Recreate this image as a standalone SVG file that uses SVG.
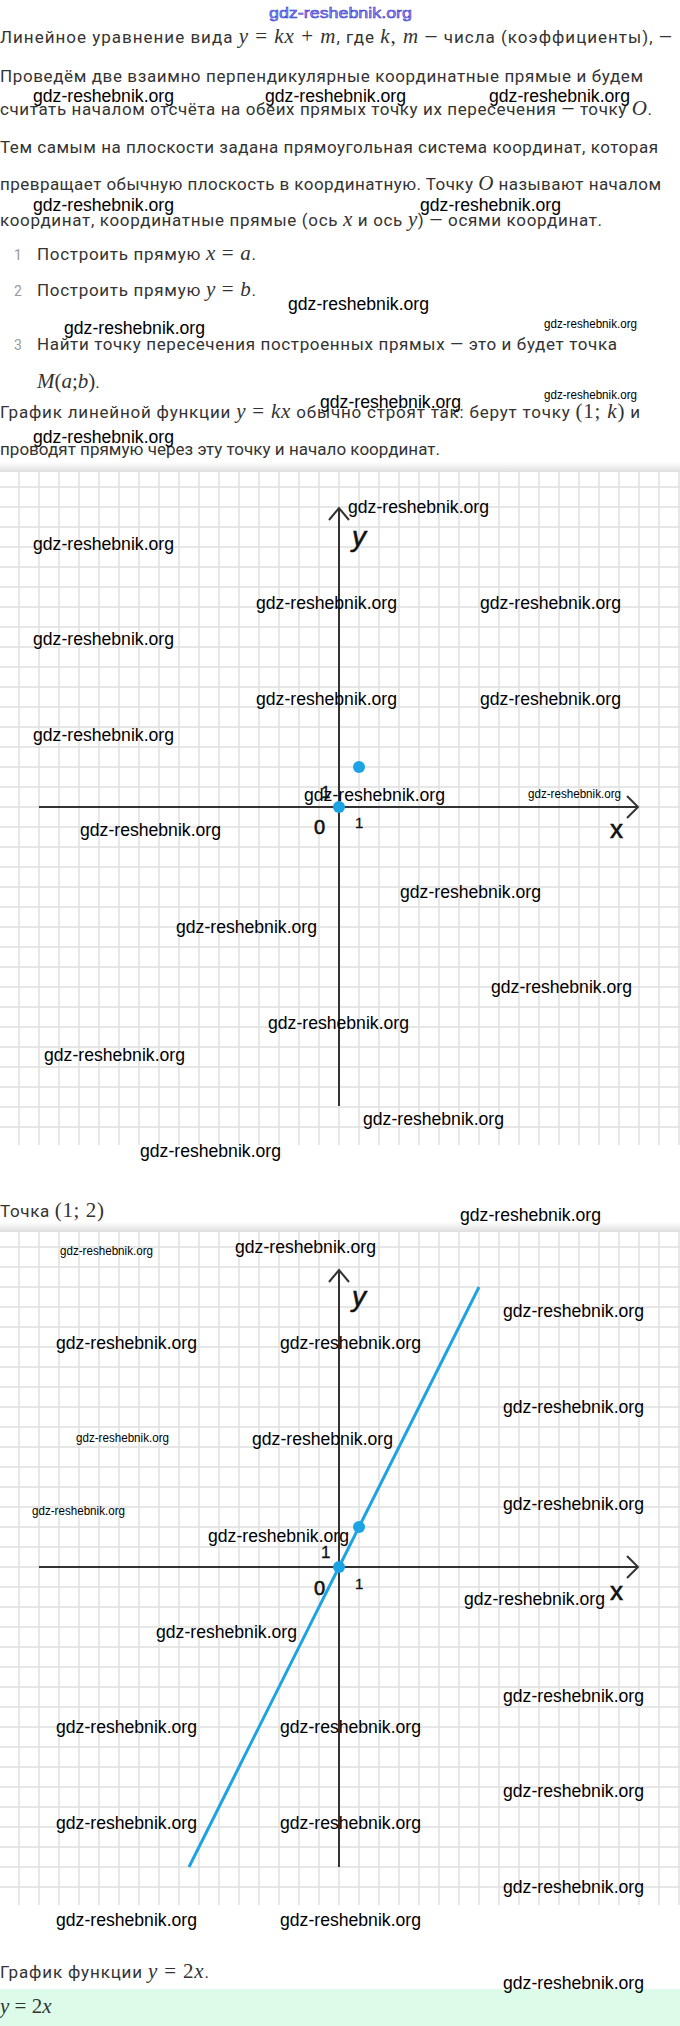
<svg xmlns="http://www.w3.org/2000/svg" width="680" height="2026" viewBox="0 0 680 2026">
<defs>
<style>
.t{font-family:Roboto,"Liberation Sans",sans-serif;font-size:17px;fill:#333}
.m{font-family:"Liberation Serif",serif;font-style:italic;font-size:21px}
.mr{font-family:"Liberation Serif",serif;font-style:normal;font-size:21px}
.num{font-family:Roboto,"Liberation Sans",sans-serif;font-size:14px;fill:#999}
.w{font-family:"Liberation Sans Narrow","Liberation Sans",sans-serif;font-size:18px;fill:#000}
.ws{font-family:"Liberation Sans Narrow","Liberation Sans",sans-serif;font-size:12px;fill:#000}
.axis{stroke:#333;stroke-width:2;fill:none}
.arrow{stroke:#333;stroke-width:2;fill:none;stroke-linejoin:miter}
.lbl{font-family:"Liberation Sans",Arial,sans-serif;fill:#111;stroke:#111;stroke-width:0.6}
.dot{fill:#1ba3e4}
.fn{stroke:#1ba3e4;stroke-width:3;fill:none}
</style>
<pattern id="grid" width="20" height="20" patternUnits="userSpaceOnUse">
<rect width="20" height="20" fill="#fff"/>
<line x1="19" y1="0" x2="19" y2="20" stroke="#e3e3e3" stroke-width="1.7"/>
<line x1="0" y1="7" x2="20" y2="7" stroke="#e3e3e3" stroke-width="1.7"/>
</pattern>
<linearGradient id="sh" x1="0" y1="0" x2="0" y2="1">
<stop offset="0" stop-color="#000" stop-opacity="0"/>
<stop offset="1" stop-color="#000" stop-opacity="0.13"/>
</linearGradient>
</defs>
<rect width="680" height="2026" fill="#fff"/>

<g id="title">
<text x="269" y="18" textLength="143" lengthAdjust="spacingAndGlyphs" style="font-family:'Liberation Sans Narrow','Liberation Sans',sans-serif;font-size:15px;fill:#9a9af4;stroke:#2a2ad0;stroke-width:0.5">gdz-reshebnik.org</text>
</g>

<g id="intro-text">
<text class="t" x="0" y="43" textLength="672">Линейное уравнение вида <tspan class="m">y</tspan><tspan class="mr"> = </tspan><tspan class="m">kx</tspan><tspan class="mr"> + </tspan><tspan class="m">m</tspan>, где <tspan class="m">k</tspan><tspan class="mr">, </tspan><tspan class="m">m</tspan> — числа (коэффициенты), —</text>
<text class="t" x="0" y="82" textLength="643">Проведём две взаимно перпендикулярные координатные прямые и будем</text>
<text class="t" x="0" y="115" textLength="652">считать началом отсчёта на обеих прямых точку их пересечения — точку <tspan class="m">O</tspan>.</text>
<text class="t" x="0" y="153" textLength="658">Тем самым на плоскости задана прямоугольная система координат, которая</text>
<text class="t" x="0" y="190" textLength="661">превращает обычную плоскость в координатную. Точку <tspan class="m">O</tspan> называют началом</text>
<text class="t" x="0" y="226" textLength="602">координат, координатные прямые (ось <tspan class="m">x</tspan> и ось <tspan class="m">y</tspan>) — осями координат.</text>
</g>

<g id="steps">
<text class="num" x="14" y="260">1</text>
<text class="t" x="37" y="260" textLength="219">Построить прямую <tspan class="m">x</tspan><tspan class="mr"> = </tspan><tspan class="m">a</tspan>.</text>
<text class="num" x="14" y="296">2</text>
<text class="t" x="37" y="296" textLength="219">Построить прямую <tspan class="m">y</tspan><tspan class="mr"> = </tspan><tspan class="m">b</tspan>.</text>
<text class="num" x="14" y="350">3</text>
<text class="t" x="37" y="350" textLength="580">Найти точку пересечения построенных прямых — это и будет точка</text>
<text class="t" x="37" y="388"><tspan class="m">M</tspan><tspan class="mr">(</tspan><tspan class="m">a</tspan><tspan class="mr">;</tspan><tspan class="m">b</tspan><tspan class="mr">)</tspan>.</text>
</g>

<g id="kx-text">
<text class="t" x="0" y="418" textLength="640">График линейной функции <tspan class="m">y</tspan><tspan class="mr"> = </tspan><tspan class="m">kx</tspan> обычно строят так: берут точку <tspan class="mr">(1; </tspan><tspan class="m">k</tspan><tspan class="mr">)</tspan> и</text>
<text class="t" x="0" y="455" textLength="440">проводят прямую через эту точку и начало координат.</text>
</g>

<g id="chart1">
<rect x="0" y="462" width="680" height="10" fill="url(#sh)"/>
<rect x="0" y="472" width="680" height="673" fill="url(#grid)"/>
<g id="chart1-connectors">
<line class="axis" x1="39" y1="807" x2="637" y2="807"/>
<polyline class="arrow" points="627,796 638,807 627,818"/>
<line class="axis" x1="339" y1="1106" x2="339" y2="509"/>
<polyline class="arrow" points="329,520 339,508 349,520"/>
</g>
<circle class="dot" cx="339" cy="807" r="6"/>
<circle class="dot" cx="359" cy="767" r="6"/>
<text class="lbl" x="352" y="546" style="font-size:28px;font-style:italic">y</text>
<text class="lbl" x="610" y="838" style="font-size:26px">x</text>
<text class="lbl" x="314" y="834" style="font-size:20px">0</text>
<text class="lbl" x="321" y="798" style="font-size:17px;stroke-width:0.3">1</text>
<text class="lbl" x="355" y="828" style="font-size:15px;stroke-width:0.3">1</text>
</g>

<g id="point-caption">
<text class="t" x="0" y="1217" textLength="104">Точка <tspan class="mr">(1; 2)</tspan></text>
</g>

<g id="chart2">
<rect x="0" y="1222" width="680" height="10" fill="url(#sh)"/>
<rect x="0" y="1232" width="680" height="673" fill="url(#grid)"/>
<g id="chart2-connectors">
<line class="axis" x1="39" y1="1567" x2="637" y2="1567"/>
<polyline class="arrow" points="627,1556 638,1567 627,1578"/>
<line class="axis" x1="339" y1="1867" x2="339" y2="1271"/>
<polyline class="arrow" points="329,1282 339,1270 349,1282"/>
<line class="fn" x1="189" y1="1867" x2="479" y2="1287"/>
</g>
<circle class="dot" cx="339" cy="1567" r="6"/>
<circle class="dot" cx="359" cy="1527" r="6"/>
<text class="lbl" x="352" y="1306" style="font-size:28px;font-style:italic">y</text>
<text class="lbl" x="610" y="1600" style="font-size:26px">x</text>
<text class="lbl" x="314" y="1595" style="font-size:20px">0</text>
<text class="lbl" x="321" y="1558" style="font-size:17px;stroke-width:0.3">1</text>
<text class="lbl" x="355" y="1589" style="font-size:15px;stroke-width:0.3">1</text>
</g>

<g id="graph-caption">
<text class="t" x="0" y="1978" textLength="209">График функции <tspan class="m">y</tspan><tspan class="mr"> = 2</tspan><tspan class="m">x</tspan>.</text>
</g>

<g id="answer">
<rect x="0" y="1989" width="680" height="37" fill="#dcfce9"/>
<text class="t" x="0" y="2013"><tspan class="m">y</tspan><tspan class="mr"> = 2</tspan><tspan class="m">x</tspan></text>
</g>

<g id="watermarks">
<text class="w" x="33" y="102" textLength="141" lengthAdjust="spacingAndGlyphs">gdz-reshebnik.org</text>
<text class="w" x="265" y="102" textLength="141" lengthAdjust="spacingAndGlyphs">gdz-reshebnik.org</text>
<text class="w" x="489" y="102" textLength="141" lengthAdjust="spacingAndGlyphs">gdz-reshebnik.org</text>
<text class="w" x="33" y="211" textLength="141" lengthAdjust="spacingAndGlyphs">gdz-reshebnik.org</text>
<text class="w" x="420" y="211" textLength="141" lengthAdjust="spacingAndGlyphs">gdz-reshebnik.org</text>
<text class="w" x="288" y="310" textLength="141" lengthAdjust="spacingAndGlyphs">gdz-reshebnik.org</text>
<text class="w" x="64" y="334" textLength="141" lengthAdjust="spacingAndGlyphs">gdz-reshebnik.org</text>
<text class="ws" x="544" y="328" textLength="93" lengthAdjust="spacingAndGlyphs">gdz-reshebnik.org</text>
<text class="w" x="320" y="408" textLength="141" lengthAdjust="spacingAndGlyphs">gdz-reshebnik.org</text>
<text class="ws" x="544" y="399" textLength="93" lengthAdjust="spacingAndGlyphs">gdz-reshebnik.org</text>
<text class="w" x="33" y="443" textLength="141" lengthAdjust="spacingAndGlyphs">gdz-reshebnik.org</text>
<text class="w" x="348" y="513" textLength="141" lengthAdjust="spacingAndGlyphs">gdz-reshebnik.org</text>
<text class="w" x="33" y="550" textLength="141" lengthAdjust="spacingAndGlyphs">gdz-reshebnik.org</text>
<text class="w" x="256" y="609" textLength="141" lengthAdjust="spacingAndGlyphs">gdz-reshebnik.org</text>
<text class="w" x="480" y="609" textLength="141" lengthAdjust="spacingAndGlyphs">gdz-reshebnik.org</text>
<text class="w" x="33" y="645" textLength="141" lengthAdjust="spacingAndGlyphs">gdz-reshebnik.org</text>
<text class="w" x="256" y="705" textLength="141" lengthAdjust="spacingAndGlyphs">gdz-reshebnik.org</text>
<text class="w" x="480" y="705" textLength="141" lengthAdjust="spacingAndGlyphs">gdz-reshebnik.org</text>
<text class="w" x="33" y="741" textLength="141" lengthAdjust="spacingAndGlyphs">gdz-reshebnik.org</text>
<text class="w" x="304" y="801" textLength="141" lengthAdjust="spacingAndGlyphs">gdz-reshebnik.org</text>
<text class="ws" x="528" y="798" textLength="93" lengthAdjust="spacingAndGlyphs">gdz-reshebnik.org</text>
<text class="w" x="80" y="836" textLength="141" lengthAdjust="spacingAndGlyphs">gdz-reshebnik.org</text>
<text class="w" x="400" y="898" textLength="141" lengthAdjust="spacingAndGlyphs">gdz-reshebnik.org</text>
<text class="w" x="176" y="933" textLength="141" lengthAdjust="spacingAndGlyphs">gdz-reshebnik.org</text>
<text class="w" x="491" y="993" textLength="141" lengthAdjust="spacingAndGlyphs">gdz-reshebnik.org</text>
<text class="w" x="268" y="1029" textLength="141" lengthAdjust="spacingAndGlyphs">gdz-reshebnik.org</text>
<text class="w" x="44" y="1061" textLength="141" lengthAdjust="spacingAndGlyphs">gdz-reshebnik.org</text>
<text class="w" x="363" y="1125" textLength="141" lengthAdjust="spacingAndGlyphs">gdz-reshebnik.org</text>
<text class="w" x="140" y="1157" textLength="141" lengthAdjust="spacingAndGlyphs">gdz-reshebnik.org</text>
<text class="w" x="460" y="1221" textLength="141" lengthAdjust="spacingAndGlyphs">gdz-reshebnik.org</text>
<text class="ws" x="60" y="1255" textLength="93" lengthAdjust="spacingAndGlyphs">gdz-reshebnik.org</text>
<text class="w" x="235" y="1253" textLength="141" lengthAdjust="spacingAndGlyphs">gdz-reshebnik.org</text>
<text class="w" x="503" y="1317" textLength="141" lengthAdjust="spacingAndGlyphs">gdz-reshebnik.org</text>
<text class="w" x="56" y="1349" textLength="141" lengthAdjust="spacingAndGlyphs">gdz-reshebnik.org</text>
<text class="w" x="280" y="1349" textLength="141" lengthAdjust="spacingAndGlyphs">gdz-reshebnik.org</text>
<text class="w" x="503" y="1413" textLength="141" lengthAdjust="spacingAndGlyphs">gdz-reshebnik.org</text>
<text class="ws" x="76" y="1442" textLength="93" lengthAdjust="spacingAndGlyphs">gdz-reshebnik.org</text>
<text class="w" x="252" y="1445" textLength="141" lengthAdjust="spacingAndGlyphs">gdz-reshebnik.org</text>
<text class="w" x="503" y="1510" textLength="141" lengthAdjust="spacingAndGlyphs">gdz-reshebnik.org</text>
<text class="ws" x="32" y="1515" textLength="93" lengthAdjust="spacingAndGlyphs">gdz-reshebnik.org</text>
<text class="w" x="208" y="1542" textLength="141" lengthAdjust="spacingAndGlyphs">gdz-reshebnik.org</text>
<text class="w" x="464" y="1605" textLength="141" lengthAdjust="spacingAndGlyphs">gdz-reshebnik.org</text>
<text class="w" x="156" y="1638" textLength="141" lengthAdjust="spacingAndGlyphs">gdz-reshebnik.org</text>
<text class="w" x="503" y="1702" textLength="141" lengthAdjust="spacingAndGlyphs">gdz-reshebnik.org</text>
<text class="w" x="56" y="1733" textLength="141" lengthAdjust="spacingAndGlyphs">gdz-reshebnik.org</text>
<text class="w" x="280" y="1733" textLength="141" lengthAdjust="spacingAndGlyphs">gdz-reshebnik.org</text>
<text class="w" x="503" y="1797" textLength="141" lengthAdjust="spacingAndGlyphs">gdz-reshebnik.org</text>
<text class="w" x="56" y="1829" textLength="141" lengthAdjust="spacingAndGlyphs">gdz-reshebnik.org</text>
<text class="w" x="280" y="1829" textLength="141" lengthAdjust="spacingAndGlyphs">gdz-reshebnik.org</text>
<text class="w" x="503" y="1893" textLength="141" lengthAdjust="spacingAndGlyphs">gdz-reshebnik.org</text>
<text class="w" x="56" y="1926" textLength="141" lengthAdjust="spacingAndGlyphs">gdz-reshebnik.org</text>
<text class="w" x="280" y="1926" textLength="141" lengthAdjust="spacingAndGlyphs">gdz-reshebnik.org</text>
<text class="w" x="503" y="1989" textLength="141" lengthAdjust="spacingAndGlyphs">gdz-reshebnik.org</text>
</g>
</svg>
